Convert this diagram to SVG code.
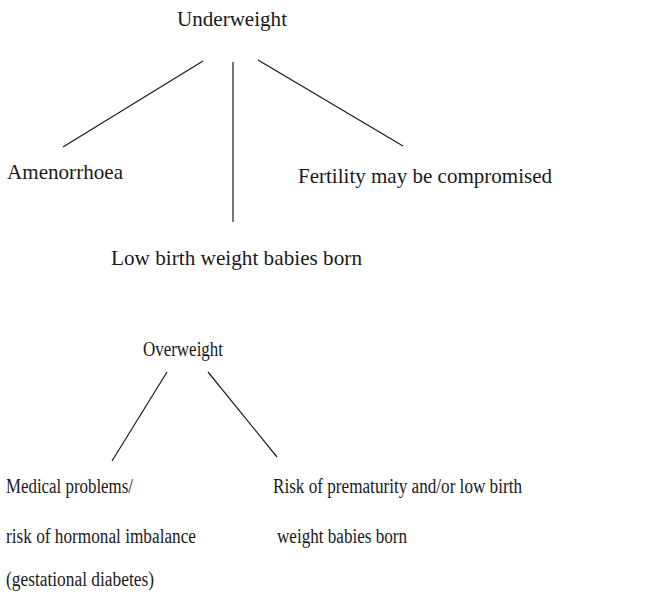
<svg xmlns="http://www.w3.org/2000/svg" width="648" height="595" viewBox="0 0 648 595">
<style>
text{fill:#1a1a1a}
.t{font-size:21px}
.b{font-size:20px}
.c line{stroke:#1a1a1a;stroke-width:1.2}
</style>
<rect width="648" height="595" fill="#fff"/>
<g font-family="'Liberation Serif', 'DejaVu Serif', 'Times New Roman', serif">
<g id="underweight"><text class="t" x="177" y="26" textLength="110" lengthAdjust="spacingAndGlyphs">Underweight</text></g>
<g id="amenorrhoea"><text class="t" x="7" y="179" textLength="116" lengthAdjust="spacingAndGlyphs">Amenorrhoea</text></g>
<g id="fertility"><text class="t" x="298" y="183" textLength="254" lengthAdjust="spacingAndGlyphs">Fertility may be compromised</text></g>
<g id="lowbirth"><text class="t" x="111" y="265" textLength="251" lengthAdjust="spacingAndGlyphs">Low birth weight babies born</text></g>
<g id="overweight"><text class="b" x="143" y="356" textLength="80" lengthAdjust="spacingAndGlyphs">Overweight</text></g>
<g id="medical">
<text class="b" x="6" y="493" textLength="127" lengthAdjust="spacingAndGlyphs">Medical problems/</text>
<text class="b" x="6" y="543" textLength="190" lengthAdjust="spacingAndGlyphs">risk of hormonal imbalance</text>
<text class="b" x="6" y="586" textLength="148" lengthAdjust="spacingAndGlyphs">(gestational diabetes)</text>
</g>
<g id="prematurity">
<text class="b" x="273" y="493" textLength="249" lengthAdjust="spacingAndGlyphs">Risk of prematurity and/or low birth</text>
<text class="b" x="277" y="543" textLength="130" lengthAdjust="spacingAndGlyphs">weight babies born</text>
</g>
</g>
<g id="connectors" class="c">
<line x1="203" y1="61" x2="63" y2="147"/>
<line x1="233" y1="62" x2="233" y2="222"/>
<line x1="258" y1="60" x2="403" y2="146"/>
<line x1="167" y1="372" x2="112" y2="461"/>
<line x1="208" y1="372" x2="277" y2="457"/>
</g>
</svg>
